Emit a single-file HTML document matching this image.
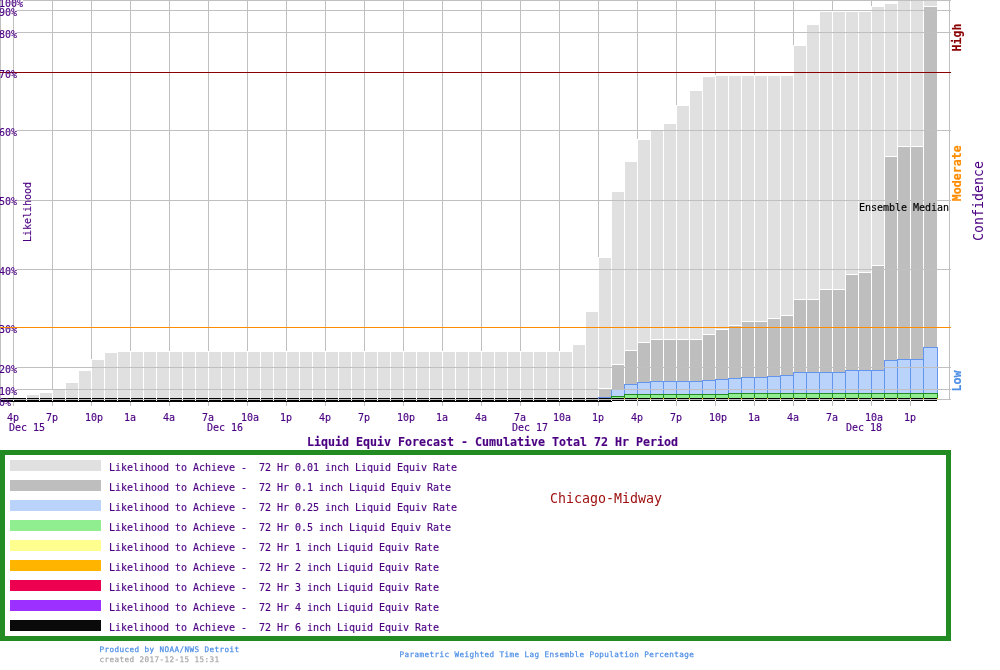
<!DOCTYPE html>
<html lang="en"><head><meta charset="utf-8"><title>Liquid Equiv Forecast - Chicago-Midway</title>
<style>html,body{margin:0;padding:0;background:#fff;overflow:hidden}body{width:1000px;height:670px;position:relative}</style>
</head><body>
<svg width="1000" height="670" viewBox="0 0 1000 670" style="position:absolute;left:0;top:0;display:block">
<g shape-rendering="crispEdges">
<rect x="13" y="0" width="1" height="402" fill="#C0C0C0"/>
<rect x="52" y="0" width="1" height="402" fill="#C0C0C0"/>
<rect x="91" y="0" width="1" height="402" fill="#C0C0C0"/>
<rect x="130" y="0" width="1" height="402" fill="#C0C0C0"/>
<rect x="169" y="0" width="1" height="402" fill="#C0C0C0"/>
<rect x="208" y="0" width="1" height="402" fill="#C0C0C0"/>
<rect x="247" y="0" width="1" height="402" fill="#C0C0C0"/>
<rect x="286" y="0" width="1" height="402" fill="#C0C0C0"/>
<rect x="325" y="0" width="1" height="402" fill="#C0C0C0"/>
<rect x="364" y="0" width="1" height="402" fill="#C0C0C0"/>
<rect x="403" y="0" width="1" height="402" fill="#C0C0C0"/>
<rect x="442" y="0" width="1" height="402" fill="#C0C0C0"/>
<rect x="481" y="0" width="1" height="402" fill="#C0C0C0"/>
<rect x="520" y="0" width="1" height="402" fill="#C0C0C0"/>
<rect x="559" y="0" width="1" height="402" fill="#C0C0C0"/>
<rect x="598" y="0" width="1" height="402" fill="#C0C0C0"/>
<rect x="637" y="0" width="1" height="402" fill="#C0C0C0"/>
<rect x="676" y="0" width="1" height="402" fill="#C0C0C0"/>
<rect x="715" y="0" width="1" height="402" fill="#C0C0C0"/>
<rect x="754" y="0" width="1" height="402" fill="#C0C0C0"/>
<rect x="793" y="0" width="1" height="402" fill="#C0C0C0"/>
<rect x="832" y="0" width="1" height="402" fill="#C0C0C0"/>
<rect x="871" y="0" width="1" height="402" fill="#C0C0C0"/>
<rect x="910" y="0" width="1" height="402" fill="#C0C0C0"/>
<rect x="0" y="0" width="1" height="402" fill="#C0C0C0"/>
<rect x="949" y="0" width="1" height="400" fill="#C0C0C0"/>
<rect x="26" y="394" width="14" height="4" fill="#FFFFFF"/>
<rect x="27" y="395" width="12" height="3" fill="#E0E0E0"/>
<rect x="39" y="392" width="14" height="6" fill="#FFFFFF"/>
<rect x="40" y="393" width="12" height="5" fill="#E0E0E0"/>
<rect x="52" y="389" width="14" height="9" fill="#FFFFFF"/>
<rect x="53" y="390" width="12" height="8" fill="#E0E0E0"/>
<rect x="65" y="382" width="14" height="16" fill="#FFFFFF"/>
<rect x="66" y="383" width="12" height="15" fill="#E0E0E0"/>
<rect x="78" y="370" width="14" height="28" fill="#FFFFFF"/>
<rect x="79" y="371" width="12" height="27" fill="#E0E0E0"/>
<rect x="91" y="359" width="14" height="39" fill="#FFFFFF"/>
<rect x="92" y="360" width="12" height="38" fill="#E0E0E0"/>
<rect x="104" y="352" width="14" height="46" fill="#FFFFFF"/>
<rect x="105" y="353" width="12" height="45" fill="#E0E0E0"/>
<rect x="117" y="351" width="14" height="47" fill="#FFFFFF"/>
<rect x="118" y="352" width="12" height="46" fill="#E0E0E0"/>
<rect x="130" y="351" width="14" height="47" fill="#FFFFFF"/>
<rect x="131" y="352" width="12" height="46" fill="#E0E0E0"/>
<rect x="143" y="351" width="14" height="47" fill="#FFFFFF"/>
<rect x="144" y="352" width="12" height="46" fill="#E0E0E0"/>
<rect x="156" y="351" width="14" height="47" fill="#FFFFFF"/>
<rect x="157" y="352" width="12" height="46" fill="#E0E0E0"/>
<rect x="169" y="351" width="14" height="47" fill="#FFFFFF"/>
<rect x="170" y="352" width="12" height="46" fill="#E0E0E0"/>
<rect x="182" y="351" width="14" height="47" fill="#FFFFFF"/>
<rect x="183" y="352" width="12" height="46" fill="#E0E0E0"/>
<rect x="195" y="351" width="14" height="47" fill="#FFFFFF"/>
<rect x="196" y="352" width="12" height="46" fill="#E0E0E0"/>
<rect x="208" y="351" width="14" height="47" fill="#FFFFFF"/>
<rect x="209" y="352" width="12" height="46" fill="#E0E0E0"/>
<rect x="221" y="351" width="14" height="47" fill="#FFFFFF"/>
<rect x="222" y="352" width="12" height="46" fill="#E0E0E0"/>
<rect x="234" y="351" width="14" height="47" fill="#FFFFFF"/>
<rect x="235" y="352" width="12" height="46" fill="#E0E0E0"/>
<rect x="247" y="351" width="14" height="47" fill="#FFFFFF"/>
<rect x="248" y="352" width="12" height="46" fill="#E0E0E0"/>
<rect x="260" y="351" width="14" height="47" fill="#FFFFFF"/>
<rect x="261" y="352" width="12" height="46" fill="#E0E0E0"/>
<rect x="273" y="351" width="14" height="47" fill="#FFFFFF"/>
<rect x="274" y="352" width="12" height="46" fill="#E0E0E0"/>
<rect x="286" y="351" width="14" height="47" fill="#FFFFFF"/>
<rect x="287" y="352" width="12" height="46" fill="#E0E0E0"/>
<rect x="299" y="351" width="14" height="47" fill="#FFFFFF"/>
<rect x="300" y="352" width="12" height="46" fill="#E0E0E0"/>
<rect x="312" y="351" width="14" height="47" fill="#FFFFFF"/>
<rect x="313" y="352" width="12" height="46" fill="#E0E0E0"/>
<rect x="325" y="351" width="14" height="47" fill="#FFFFFF"/>
<rect x="326" y="352" width="12" height="46" fill="#E0E0E0"/>
<rect x="338" y="351" width="14" height="47" fill="#FFFFFF"/>
<rect x="339" y="352" width="12" height="46" fill="#E0E0E0"/>
<rect x="351" y="351" width="14" height="47" fill="#FFFFFF"/>
<rect x="352" y="352" width="12" height="46" fill="#E0E0E0"/>
<rect x="364" y="351" width="14" height="47" fill="#FFFFFF"/>
<rect x="365" y="352" width="12" height="46" fill="#E0E0E0"/>
<rect x="377" y="351" width="14" height="47" fill="#FFFFFF"/>
<rect x="378" y="352" width="12" height="46" fill="#E0E0E0"/>
<rect x="390" y="351" width="14" height="47" fill="#FFFFFF"/>
<rect x="391" y="352" width="12" height="46" fill="#E0E0E0"/>
<rect x="403" y="351" width="14" height="47" fill="#FFFFFF"/>
<rect x="404" y="352" width="12" height="46" fill="#E0E0E0"/>
<rect x="416" y="351" width="14" height="47" fill="#FFFFFF"/>
<rect x="417" y="352" width="12" height="46" fill="#E0E0E0"/>
<rect x="429" y="351" width="14" height="47" fill="#FFFFFF"/>
<rect x="430" y="352" width="12" height="46" fill="#E0E0E0"/>
<rect x="442" y="351" width="14" height="47" fill="#FFFFFF"/>
<rect x="443" y="352" width="12" height="46" fill="#E0E0E0"/>
<rect x="455" y="351" width="14" height="47" fill="#FFFFFF"/>
<rect x="456" y="352" width="12" height="46" fill="#E0E0E0"/>
<rect x="468" y="351" width="14" height="47" fill="#FFFFFF"/>
<rect x="469" y="352" width="12" height="46" fill="#E0E0E0"/>
<rect x="481" y="351" width="14" height="47" fill="#FFFFFF"/>
<rect x="482" y="352" width="12" height="46" fill="#E0E0E0"/>
<rect x="494" y="351" width="14" height="47" fill="#FFFFFF"/>
<rect x="495" y="352" width="12" height="46" fill="#E0E0E0"/>
<rect x="507" y="351" width="14" height="47" fill="#FFFFFF"/>
<rect x="508" y="352" width="12" height="46" fill="#E0E0E0"/>
<rect x="520" y="351" width="14" height="47" fill="#FFFFFF"/>
<rect x="521" y="352" width="12" height="46" fill="#E0E0E0"/>
<rect x="533" y="351" width="14" height="47" fill="#FFFFFF"/>
<rect x="534" y="352" width="12" height="46" fill="#E0E0E0"/>
<rect x="546" y="351" width="14" height="47" fill="#FFFFFF"/>
<rect x="547" y="352" width="12" height="46" fill="#E0E0E0"/>
<rect x="559" y="351" width="14" height="47" fill="#FFFFFF"/>
<rect x="560" y="352" width="12" height="46" fill="#E0E0E0"/>
<rect x="572" y="344" width="14" height="54" fill="#FFFFFF"/>
<rect x="573" y="345" width="12" height="53" fill="#E0E0E0"/>
<rect x="585" y="311" width="14" height="87" fill="#FFFFFF"/>
<rect x="586" y="312" width="12" height="86" fill="#E0E0E0"/>
<rect x="598" y="257" width="14" height="141" fill="#FFFFFF"/>
<rect x="599" y="258" width="12" height="140" fill="#E0E0E0"/>
<rect x="611" y="191" width="14" height="207" fill="#FFFFFF"/>
<rect x="612" y="192" width="12" height="206" fill="#E0E0E0"/>
<rect x="624" y="161" width="14" height="237" fill="#FFFFFF"/>
<rect x="625" y="162" width="12" height="236" fill="#E0E0E0"/>
<rect x="637" y="139" width="14" height="259" fill="#FFFFFF"/>
<rect x="638" y="140" width="12" height="258" fill="#E0E0E0"/>
<rect x="650" y="130" width="14" height="268" fill="#FFFFFF"/>
<rect x="651" y="131" width="12" height="267" fill="#E0E0E0"/>
<rect x="663" y="123" width="14" height="275" fill="#FFFFFF"/>
<rect x="664" y="124" width="12" height="274" fill="#E0E0E0"/>
<rect x="676" y="105" width="14" height="293" fill="#FFFFFF"/>
<rect x="677" y="106" width="12" height="292" fill="#E0E0E0"/>
<rect x="689" y="90" width="14" height="308" fill="#FFFFFF"/>
<rect x="690" y="91" width="12" height="307" fill="#E0E0E0"/>
<rect x="702" y="76" width="14" height="322" fill="#FFFFFF"/>
<rect x="703" y="77" width="12" height="321" fill="#E0E0E0"/>
<rect x="715" y="75" width="14" height="323" fill="#FFFFFF"/>
<rect x="716" y="76" width="12" height="322" fill="#E0E0E0"/>
<rect x="728" y="75" width="14" height="323" fill="#FFFFFF"/>
<rect x="729" y="76" width="12" height="322" fill="#E0E0E0"/>
<rect x="741" y="75" width="14" height="323" fill="#FFFFFF"/>
<rect x="742" y="76" width="12" height="322" fill="#E0E0E0"/>
<rect x="754" y="75" width="14" height="323" fill="#FFFFFF"/>
<rect x="755" y="76" width="12" height="322" fill="#E0E0E0"/>
<rect x="767" y="75" width="14" height="323" fill="#FFFFFF"/>
<rect x="768" y="76" width="12" height="322" fill="#E0E0E0"/>
<rect x="780" y="75" width="14" height="323" fill="#FFFFFF"/>
<rect x="781" y="76" width="12" height="322" fill="#E0E0E0"/>
<rect x="793" y="45" width="14" height="353" fill="#FFFFFF"/>
<rect x="794" y="46" width="12" height="352" fill="#E0E0E0"/>
<rect x="806" y="24" width="14" height="374" fill="#FFFFFF"/>
<rect x="807" y="25" width="12" height="373" fill="#E0E0E0"/>
<rect x="819" y="11" width="14" height="387" fill="#FFFFFF"/>
<rect x="820" y="12" width="12" height="386" fill="#E0E0E0"/>
<rect x="832" y="11" width="14" height="387" fill="#FFFFFF"/>
<rect x="833" y="12" width="12" height="386" fill="#E0E0E0"/>
<rect x="845" y="11" width="14" height="387" fill="#FFFFFF"/>
<rect x="846" y="12" width="12" height="386" fill="#E0E0E0"/>
<rect x="858" y="11" width="14" height="387" fill="#FFFFFF"/>
<rect x="859" y="12" width="12" height="386" fill="#E0E0E0"/>
<rect x="871" y="6" width="14" height="392" fill="#FFFFFF"/>
<rect x="872" y="7" width="12" height="391" fill="#E0E0E0"/>
<rect x="884" y="3" width="14" height="395" fill="#FFFFFF"/>
<rect x="885" y="4" width="12" height="394" fill="#E0E0E0"/>
<rect x="897" y="0" width="14" height="398" fill="#FFFFFF"/>
<rect x="898" y="1" width="12" height="397" fill="#E0E0E0"/>
<rect x="910" y="0" width="14" height="398" fill="#FFFFFF"/>
<rect x="911" y="1" width="12" height="397" fill="#E0E0E0"/>
<rect x="923" y="0" width="15" height="398" fill="#FFFFFF"/>
<rect x="924" y="1" width="13" height="397" fill="#E0E0E0"/>
<rect x="598" y="388" width="14" height="10" fill="#FFFFFF"/>
<rect x="599" y="389" width="12" height="9" fill="#BEBEBE"/>
<rect x="611" y="364" width="14" height="34" fill="#FFFFFF"/>
<rect x="612" y="365" width="12" height="33" fill="#BEBEBE"/>
<rect x="624" y="350" width="14" height="48" fill="#FFFFFF"/>
<rect x="625" y="351" width="12" height="47" fill="#BEBEBE"/>
<rect x="637" y="342" width="14" height="56" fill="#FFFFFF"/>
<rect x="638" y="343" width="12" height="55" fill="#BEBEBE"/>
<rect x="650" y="339" width="14" height="59" fill="#FFFFFF"/>
<rect x="651" y="340" width="12" height="58" fill="#BEBEBE"/>
<rect x="663" y="339" width="14" height="59" fill="#FFFFFF"/>
<rect x="664" y="340" width="12" height="58" fill="#BEBEBE"/>
<rect x="676" y="339" width="14" height="59" fill="#FFFFFF"/>
<rect x="677" y="340" width="12" height="58" fill="#BEBEBE"/>
<rect x="689" y="339" width="14" height="59" fill="#FFFFFF"/>
<rect x="690" y="340" width="12" height="58" fill="#BEBEBE"/>
<rect x="702" y="334" width="14" height="64" fill="#FFFFFF"/>
<rect x="703" y="335" width="12" height="63" fill="#BEBEBE"/>
<rect x="715" y="329" width="14" height="69" fill="#FFFFFF"/>
<rect x="716" y="330" width="12" height="68" fill="#BEBEBE"/>
<rect x="728" y="325" width="14" height="73" fill="#FFFFFF"/>
<rect x="729" y="326" width="12" height="72" fill="#BEBEBE"/>
<rect x="741" y="321" width="14" height="77" fill="#FFFFFF"/>
<rect x="742" y="322" width="12" height="76" fill="#BEBEBE"/>
<rect x="754" y="321" width="14" height="77" fill="#FFFFFF"/>
<rect x="755" y="322" width="12" height="76" fill="#BEBEBE"/>
<rect x="767" y="318" width="14" height="80" fill="#FFFFFF"/>
<rect x="768" y="319" width="12" height="79" fill="#BEBEBE"/>
<rect x="780" y="315" width="14" height="83" fill="#FFFFFF"/>
<rect x="781" y="316" width="12" height="82" fill="#BEBEBE"/>
<rect x="793" y="299" width="14" height="99" fill="#FFFFFF"/>
<rect x="794" y="300" width="12" height="98" fill="#BEBEBE"/>
<rect x="806" y="299" width="14" height="99" fill="#FFFFFF"/>
<rect x="807" y="300" width="12" height="98" fill="#BEBEBE"/>
<rect x="819" y="289" width="14" height="109" fill="#FFFFFF"/>
<rect x="820" y="290" width="12" height="108" fill="#BEBEBE"/>
<rect x="832" y="289" width="14" height="109" fill="#FFFFFF"/>
<rect x="833" y="290" width="12" height="108" fill="#BEBEBE"/>
<rect x="845" y="274" width="14" height="124" fill="#FFFFFF"/>
<rect x="846" y="275" width="12" height="123" fill="#BEBEBE"/>
<rect x="858" y="272" width="14" height="126" fill="#FFFFFF"/>
<rect x="859" y="273" width="12" height="125" fill="#BEBEBE"/>
<rect x="871" y="265" width="14" height="133" fill="#FFFFFF"/>
<rect x="872" y="266" width="12" height="132" fill="#BEBEBE"/>
<rect x="884" y="156" width="14" height="242" fill="#FFFFFF"/>
<rect x="885" y="157" width="12" height="241" fill="#BEBEBE"/>
<rect x="897" y="146" width="14" height="252" fill="#FFFFFF"/>
<rect x="898" y="147" width="12" height="251" fill="#BEBEBE"/>
<rect x="910" y="146" width="14" height="252" fill="#FFFFFF"/>
<rect x="911" y="147" width="12" height="251" fill="#BEBEBE"/>
<rect x="923" y="6" width="15" height="392" fill="#FFFFFF"/>
<rect x="924" y="7" width="13" height="391" fill="#BEBEBE"/>
<rect x="598" y="397" width="14" height="1" fill="#6495ED"/>
<rect x="611" y="389" width="14" height="9" fill="#6495ED"/>
<rect x="612" y="390" width="12" height="8" fill="#B9D3FA"/>
<rect x="624" y="384" width="14" height="14" fill="#6495ED"/>
<rect x="625" y="385" width="12" height="13" fill="#B9D3FA"/>
<rect x="637" y="382" width="14" height="16" fill="#6495ED"/>
<rect x="638" y="383" width="12" height="15" fill="#B9D3FA"/>
<rect x="650" y="381" width="14" height="17" fill="#6495ED"/>
<rect x="651" y="382" width="12" height="16" fill="#B9D3FA"/>
<rect x="663" y="381" width="14" height="17" fill="#6495ED"/>
<rect x="664" y="382" width="12" height="16" fill="#B9D3FA"/>
<rect x="676" y="381" width="14" height="17" fill="#6495ED"/>
<rect x="677" y="382" width="12" height="16" fill="#B9D3FA"/>
<rect x="689" y="381" width="14" height="17" fill="#6495ED"/>
<rect x="690" y="382" width="12" height="16" fill="#B9D3FA"/>
<rect x="702" y="380" width="14" height="18" fill="#6495ED"/>
<rect x="703" y="381" width="12" height="17" fill="#B9D3FA"/>
<rect x="715" y="379" width="14" height="19" fill="#6495ED"/>
<rect x="716" y="380" width="12" height="18" fill="#B9D3FA"/>
<rect x="728" y="378" width="14" height="20" fill="#6495ED"/>
<rect x="729" y="379" width="12" height="19" fill="#B9D3FA"/>
<rect x="741" y="377" width="14" height="21" fill="#6495ED"/>
<rect x="742" y="378" width="12" height="20" fill="#B9D3FA"/>
<rect x="754" y="377" width="14" height="21" fill="#6495ED"/>
<rect x="755" y="378" width="12" height="20" fill="#B9D3FA"/>
<rect x="767" y="376" width="14" height="22" fill="#6495ED"/>
<rect x="768" y="377" width="12" height="21" fill="#B9D3FA"/>
<rect x="780" y="375" width="14" height="23" fill="#6495ED"/>
<rect x="781" y="376" width="12" height="22" fill="#B9D3FA"/>
<rect x="793" y="372" width="14" height="26" fill="#6495ED"/>
<rect x="794" y="373" width="12" height="25" fill="#B9D3FA"/>
<rect x="806" y="372" width="14" height="26" fill="#6495ED"/>
<rect x="807" y="373" width="12" height="25" fill="#B9D3FA"/>
<rect x="819" y="372" width="14" height="26" fill="#6495ED"/>
<rect x="820" y="373" width="12" height="25" fill="#B9D3FA"/>
<rect x="832" y="372" width="14" height="26" fill="#6495ED"/>
<rect x="833" y="373" width="12" height="25" fill="#B9D3FA"/>
<rect x="845" y="370" width="14" height="28" fill="#6495ED"/>
<rect x="846" y="371" width="12" height="27" fill="#B9D3FA"/>
<rect x="858" y="370" width="14" height="28" fill="#6495ED"/>
<rect x="859" y="371" width="12" height="27" fill="#B9D3FA"/>
<rect x="871" y="370" width="14" height="28" fill="#6495ED"/>
<rect x="872" y="371" width="12" height="27" fill="#B9D3FA"/>
<rect x="884" y="360" width="14" height="38" fill="#6495ED"/>
<rect x="885" y="361" width="12" height="37" fill="#B9D3FA"/>
<rect x="897" y="359" width="14" height="39" fill="#6495ED"/>
<rect x="898" y="360" width="12" height="38" fill="#B9D3FA"/>
<rect x="910" y="359" width="14" height="39" fill="#6495ED"/>
<rect x="911" y="360" width="12" height="38" fill="#B9D3FA"/>
<rect x="923" y="347" width="15" height="51" fill="#6495ED"/>
<rect x="924" y="348" width="13" height="50" fill="#B9D3FA"/>
<rect x="611" y="396" width="14" height="2" fill="#228B22"/>
<rect x="612" y="397" width="12" height="1" fill="#90EE90"/>
<rect x="624" y="394" width="14" height="4" fill="#228B22"/>
<rect x="625" y="395" width="12" height="3" fill="#90EE90"/>
<rect x="637" y="394" width="14" height="4" fill="#228B22"/>
<rect x="638" y="395" width="12" height="3" fill="#90EE90"/>
<rect x="650" y="394" width="14" height="4" fill="#228B22"/>
<rect x="651" y="395" width="12" height="3" fill="#90EE90"/>
<rect x="663" y="394" width="14" height="4" fill="#228B22"/>
<rect x="664" y="395" width="12" height="3" fill="#90EE90"/>
<rect x="676" y="394" width="14" height="4" fill="#228B22"/>
<rect x="677" y="395" width="12" height="3" fill="#90EE90"/>
<rect x="689" y="394" width="14" height="4" fill="#228B22"/>
<rect x="690" y="395" width="12" height="3" fill="#90EE90"/>
<rect x="702" y="394" width="14" height="4" fill="#228B22"/>
<rect x="703" y="395" width="12" height="3" fill="#90EE90"/>
<rect x="715" y="394" width="14" height="4" fill="#228B22"/>
<rect x="716" y="395" width="12" height="3" fill="#90EE90"/>
<rect x="728" y="393" width="14" height="5" fill="#228B22"/>
<rect x="729" y="394" width="12" height="4" fill="#90EE90"/>
<rect x="741" y="393" width="14" height="5" fill="#228B22"/>
<rect x="742" y="394" width="12" height="4" fill="#90EE90"/>
<rect x="754" y="393" width="14" height="5" fill="#228B22"/>
<rect x="755" y="394" width="12" height="4" fill="#90EE90"/>
<rect x="767" y="393" width="14" height="5" fill="#228B22"/>
<rect x="768" y="394" width="12" height="4" fill="#90EE90"/>
<rect x="780" y="393" width="14" height="5" fill="#228B22"/>
<rect x="781" y="394" width="12" height="4" fill="#90EE90"/>
<rect x="793" y="393" width="14" height="5" fill="#228B22"/>
<rect x="794" y="394" width="12" height="4" fill="#90EE90"/>
<rect x="806" y="393" width="14" height="5" fill="#228B22"/>
<rect x="807" y="394" width="12" height="4" fill="#90EE90"/>
<rect x="819" y="393" width="14" height="5" fill="#228B22"/>
<rect x="820" y="394" width="12" height="4" fill="#90EE90"/>
<rect x="832" y="393" width="14" height="5" fill="#228B22"/>
<rect x="833" y="394" width="12" height="4" fill="#90EE90"/>
<rect x="845" y="393" width="14" height="5" fill="#228B22"/>
<rect x="846" y="394" width="12" height="4" fill="#90EE90"/>
<rect x="858" y="393" width="14" height="5" fill="#228B22"/>
<rect x="859" y="394" width="12" height="4" fill="#90EE90"/>
<rect x="871" y="393" width="14" height="5" fill="#228B22"/>
<rect x="872" y="394" width="12" height="4" fill="#90EE90"/>
<rect x="884" y="393" width="14" height="5" fill="#228B22"/>
<rect x="885" y="394" width="12" height="4" fill="#90EE90"/>
<rect x="897" y="393" width="14" height="5" fill="#228B22"/>
<rect x="898" y="394" width="12" height="4" fill="#90EE90"/>
<rect x="910" y="393" width="14" height="5" fill="#228B22"/>
<rect x="911" y="394" width="12" height="4" fill="#90EE90"/>
<rect x="923" y="393" width="15" height="5" fill="#228B22"/>
<rect x="924" y="394" width="13" height="4" fill="#90EE90"/>
<rect x="0" y="72" width="951" height="1" fill="#8B0000"/>
<rect x="23" y="0" width="928" height="1" fill="#C0C0C0"/>
<rect x="17" y="10" width="934" height="1" fill="#C0C0C0"/>
<rect x="17" y="32" width="934" height="1" fill="#C0C0C0"/>
<rect x="17" y="130" width="934" height="1" fill="#C0C0C0"/>
<rect x="17" y="200" width="934" height="1" fill="#C0C0C0"/>
<rect x="17" y="269" width="934" height="1" fill="#C0C0C0"/>
<rect x="17" y="367" width="934" height="1" fill="#C0C0C0"/>
<rect x="17" y="389" width="934" height="1" fill="#C0C0C0"/>
<rect x="1" y="398" width="936" height="1" fill="#000"/>
<rect x="1" y="400" width="936" height="1" fill="#000"/>
<rect x="1" y="401" width="611" height="1" fill="#000"/>
<rect x="13" y="400" width="1" height="1" fill="#fff"/>
<rect x="26" y="398" width="1" height="1" fill="#fff"/>
<rect x="26" y="400" width="1" height="1" fill="#fff"/>
<rect x="39" y="398" width="1" height="1" fill="#fff"/>
<rect x="39" y="400" width="1" height="1" fill="#fff"/>
<rect x="52" y="398" width="1" height="1" fill="#fff"/>
<rect x="52" y="400" width="1" height="1" fill="#fff"/>
<rect x="65" y="398" width="1" height="1" fill="#fff"/>
<rect x="65" y="400" width="1" height="1" fill="#fff"/>
<rect x="78" y="398" width="1" height="1" fill="#fff"/>
<rect x="78" y="400" width="1" height="1" fill="#fff"/>
<rect x="91" y="398" width="1" height="1" fill="#fff"/>
<rect x="91" y="400" width="1" height="1" fill="#fff"/>
<rect x="104" y="398" width="1" height="1" fill="#fff"/>
<rect x="104" y="400" width="1" height="1" fill="#fff"/>
<rect x="117" y="398" width="1" height="1" fill="#fff"/>
<rect x="117" y="400" width="1" height="1" fill="#fff"/>
<rect x="130" y="398" width="1" height="1" fill="#fff"/>
<rect x="130" y="400" width="1" height="1" fill="#fff"/>
<rect x="143" y="398" width="1" height="1" fill="#fff"/>
<rect x="143" y="400" width="1" height="1" fill="#fff"/>
<rect x="156" y="398" width="1" height="1" fill="#fff"/>
<rect x="156" y="400" width="1" height="1" fill="#fff"/>
<rect x="169" y="398" width="1" height="1" fill="#fff"/>
<rect x="169" y="400" width="1" height="1" fill="#fff"/>
<rect x="182" y="398" width="1" height="1" fill="#fff"/>
<rect x="182" y="400" width="1" height="1" fill="#fff"/>
<rect x="195" y="398" width="1" height="1" fill="#fff"/>
<rect x="195" y="400" width="1" height="1" fill="#fff"/>
<rect x="208" y="398" width="1" height="1" fill="#fff"/>
<rect x="208" y="400" width="1" height="1" fill="#fff"/>
<rect x="221" y="398" width="1" height="1" fill="#fff"/>
<rect x="221" y="400" width="1" height="1" fill="#fff"/>
<rect x="234" y="398" width="1" height="1" fill="#fff"/>
<rect x="234" y="400" width="1" height="1" fill="#fff"/>
<rect x="247" y="398" width="1" height="1" fill="#fff"/>
<rect x="247" y="400" width="1" height="1" fill="#fff"/>
<rect x="260" y="398" width="1" height="1" fill="#fff"/>
<rect x="260" y="400" width="1" height="1" fill="#fff"/>
<rect x="273" y="398" width="1" height="1" fill="#fff"/>
<rect x="273" y="400" width="1" height="1" fill="#fff"/>
<rect x="286" y="398" width="1" height="1" fill="#fff"/>
<rect x="286" y="400" width="1" height="1" fill="#fff"/>
<rect x="299" y="398" width="1" height="1" fill="#fff"/>
<rect x="299" y="400" width="1" height="1" fill="#fff"/>
<rect x="312" y="398" width="1" height="1" fill="#fff"/>
<rect x="312" y="400" width="1" height="1" fill="#fff"/>
<rect x="325" y="398" width="1" height="1" fill="#fff"/>
<rect x="325" y="400" width="1" height="1" fill="#fff"/>
<rect x="338" y="398" width="1" height="1" fill="#fff"/>
<rect x="338" y="400" width="1" height="1" fill="#fff"/>
<rect x="351" y="398" width="1" height="1" fill="#fff"/>
<rect x="351" y="400" width="1" height="1" fill="#fff"/>
<rect x="364" y="398" width="1" height="1" fill="#fff"/>
<rect x="364" y="400" width="1" height="1" fill="#fff"/>
<rect x="377" y="398" width="1" height="1" fill="#fff"/>
<rect x="377" y="400" width="1" height="1" fill="#fff"/>
<rect x="390" y="398" width="1" height="1" fill="#fff"/>
<rect x="390" y="400" width="1" height="1" fill="#fff"/>
<rect x="403" y="398" width="1" height="1" fill="#fff"/>
<rect x="403" y="400" width="1" height="1" fill="#fff"/>
<rect x="416" y="398" width="1" height="1" fill="#fff"/>
<rect x="416" y="400" width="1" height="1" fill="#fff"/>
<rect x="429" y="398" width="1" height="1" fill="#fff"/>
<rect x="429" y="400" width="1" height="1" fill="#fff"/>
<rect x="442" y="398" width="1" height="1" fill="#fff"/>
<rect x="442" y="400" width="1" height="1" fill="#fff"/>
<rect x="455" y="398" width="1" height="1" fill="#fff"/>
<rect x="455" y="400" width="1" height="1" fill="#fff"/>
<rect x="468" y="398" width="1" height="1" fill="#fff"/>
<rect x="468" y="400" width="1" height="1" fill="#fff"/>
<rect x="481" y="398" width="1" height="1" fill="#fff"/>
<rect x="481" y="400" width="1" height="1" fill="#fff"/>
<rect x="494" y="398" width="1" height="1" fill="#fff"/>
<rect x="494" y="400" width="1" height="1" fill="#fff"/>
<rect x="507" y="398" width="1" height="1" fill="#fff"/>
<rect x="507" y="400" width="1" height="1" fill="#fff"/>
<rect x="520" y="398" width="1" height="1" fill="#fff"/>
<rect x="520" y="400" width="1" height="1" fill="#fff"/>
<rect x="533" y="398" width="1" height="1" fill="#fff"/>
<rect x="533" y="400" width="1" height="1" fill="#fff"/>
<rect x="546" y="398" width="1" height="1" fill="#fff"/>
<rect x="546" y="400" width="1" height="1" fill="#fff"/>
<rect x="559" y="398" width="1" height="1" fill="#fff"/>
<rect x="559" y="400" width="1" height="1" fill="#fff"/>
<rect x="572" y="398" width="1" height="1" fill="#fff"/>
<rect x="572" y="400" width="1" height="1" fill="#fff"/>
<rect x="585" y="398" width="1" height="1" fill="#fff"/>
<rect x="585" y="400" width="1" height="1" fill="#fff"/>
<rect x="598" y="398" width="1" height="1" fill="#6495ED"/>
<rect x="598" y="400" width="1" height="1" fill="#fff"/>
<rect x="611" y="398" width="1" height="1" fill="#228B22"/>
<rect x="611" y="400" width="1" height="1" fill="#fff"/>
<rect x="624" y="398" width="1" height="1" fill="#FFC800"/>
<rect x="624" y="400" width="1" height="1" fill="#fff"/>
<rect x="637" y="398" width="1" height="1" fill="#FFC800"/>
<rect x="637" y="400" width="1" height="1" fill="#fff"/>
<rect x="650" y="398" width="1" height="1" fill="#FFC800"/>
<rect x="650" y="400" width="1" height="1" fill="#fff"/>
<rect x="663" y="398" width="1" height="1" fill="#FFC800"/>
<rect x="663" y="400" width="1" height="1" fill="#fff"/>
<rect x="676" y="398" width="1" height="1" fill="#FFC800"/>
<rect x="676" y="400" width="1" height="1" fill="#fff"/>
<rect x="689" y="398" width="1" height="1" fill="#FFC800"/>
<rect x="689" y="400" width="1" height="1" fill="#fff"/>
<rect x="702" y="398" width="1" height="1" fill="#FFC800"/>
<rect x="702" y="400" width="1" height="1" fill="#fff"/>
<rect x="715" y="398" width="1" height="1" fill="#FFC800"/>
<rect x="715" y="400" width="1" height="1" fill="#fff"/>
<rect x="728" y="398" width="1" height="1" fill="#FFC800"/>
<rect x="728" y="400" width="1" height="1" fill="#fff"/>
<rect x="741" y="398" width="1" height="1" fill="#FFC800"/>
<rect x="741" y="400" width="1" height="1" fill="#fff"/>
<rect x="754" y="398" width="1" height="1" fill="#FFC800"/>
<rect x="754" y="400" width="1" height="1" fill="#fff"/>
<rect x="767" y="398" width="1" height="1" fill="#FFC800"/>
<rect x="767" y="400" width="1" height="1" fill="#fff"/>
<rect x="780" y="398" width="1" height="1" fill="#FFC800"/>
<rect x="780" y="400" width="1" height="1" fill="#fff"/>
<rect x="793" y="398" width="1" height="1" fill="#FFC800"/>
<rect x="793" y="400" width="1" height="1" fill="#fff"/>
<rect x="806" y="398" width="1" height="1" fill="#FFC800"/>
<rect x="806" y="400" width="1" height="1" fill="#fff"/>
<rect x="819" y="398" width="1" height="1" fill="#FFC800"/>
<rect x="819" y="400" width="1" height="1" fill="#fff"/>
<rect x="832" y="398" width="1" height="1" fill="#FFC800"/>
<rect x="832" y="400" width="1" height="1" fill="#fff"/>
<rect x="845" y="398" width="1" height="1" fill="#FFC800"/>
<rect x="845" y="400" width="1" height="1" fill="#fff"/>
<rect x="858" y="398" width="1" height="1" fill="#FFC800"/>
<rect x="858" y="400" width="1" height="1" fill="#fff"/>
<rect x="871" y="398" width="1" height="1" fill="#FFC800"/>
<rect x="871" y="400" width="1" height="1" fill="#fff"/>
<rect x="884" y="398" width="1" height="1" fill="#FFC800"/>
<rect x="884" y="400" width="1" height="1" fill="#fff"/>
<rect x="897" y="398" width="1" height="1" fill="#FFC800"/>
<rect x="897" y="400" width="1" height="1" fill="#fff"/>
<rect x="910" y="398" width="1" height="1" fill="#FFC800"/>
<rect x="910" y="400" width="1" height="1" fill="#fff"/>
<rect x="923" y="398" width="1" height="1" fill="#FFC800"/>
<rect x="923" y="400" width="1" height="1" fill="#fff"/>
<rect x="937" y="398" width="1" height="1" fill="#FFC800"/>
<rect x="937" y="400" width="1" height="1" fill="#fff"/>
<rect x="13" y="402" width="1" height="4" fill="#C0C0C0"/>
<rect x="52" y="402" width="1" height="4" fill="#C0C0C0"/>
<rect x="91" y="402" width="1" height="4" fill="#C0C0C0"/>
<rect x="130" y="402" width="1" height="4" fill="#C0C0C0"/>
<rect x="169" y="402" width="1" height="4" fill="#C0C0C0"/>
<rect x="208" y="402" width="1" height="4" fill="#C0C0C0"/>
<rect x="247" y="402" width="1" height="4" fill="#C0C0C0"/>
<rect x="286" y="402" width="1" height="4" fill="#C0C0C0"/>
<rect x="325" y="402" width="1" height="4" fill="#C0C0C0"/>
<rect x="364" y="402" width="1" height="4" fill="#C0C0C0"/>
<rect x="403" y="402" width="1" height="4" fill="#C0C0C0"/>
<rect x="442" y="402" width="1" height="4" fill="#C0C0C0"/>
<rect x="481" y="402" width="1" height="4" fill="#C0C0C0"/>
<rect x="520" y="402" width="1" height="4" fill="#C0C0C0"/>
<rect x="559" y="402" width="1" height="4" fill="#C0C0C0"/>
<rect x="598" y="402" width="1" height="4" fill="#C0C0C0"/>
<rect x="637" y="401" width="1" height="5" fill="#C0C0C0"/>
<rect x="676" y="401" width="1" height="5" fill="#C0C0C0"/>
<rect x="715" y="401" width="1" height="5" fill="#C0C0C0"/>
<rect x="754" y="401" width="1" height="5" fill="#C0C0C0"/>
<rect x="793" y="401" width="1" height="5" fill="#C0C0C0"/>
<rect x="832" y="401" width="1" height="5" fill="#C0C0C0"/>
<rect x="871" y="401" width="1" height="5" fill="#C0C0C0"/>
<rect x="910" y="401" width="1" height="5" fill="#C0C0C0"/>
</g>
<g font-family="'DejaVu Sans Mono','Liberation Mono',monospace" style="white-space:pre">
<text x="-1" y="7" font-size="10" letter-spacing="-0.02" fill="#4B0082" stroke="#4B0082" stroke-width="0.15" xml:space="preserve">100%</text>
<text x="-1" y="16" font-size="10" letter-spacing="-0.02" fill="#4B0082" stroke="#4B0082" stroke-width="0.15" xml:space="preserve">90%</text>
<text x="-1" y="38" font-size="10" letter-spacing="-0.02" fill="#4B0082" stroke="#4B0082" stroke-width="0.15" xml:space="preserve">80%</text>
<text x="-1" y="78" font-size="10" letter-spacing="-0.02" fill="#4B0082" stroke="#4B0082" stroke-width="0.15" xml:space="preserve">70%</text>
<text x="-1" y="136" font-size="10" letter-spacing="-0.02" fill="#4B0082" stroke="#4B0082" stroke-width="0.15" xml:space="preserve">60%</text>
<text x="-1" y="205" font-size="10" letter-spacing="-0.02" fill="#4B0082" stroke="#4B0082" stroke-width="0.15" xml:space="preserve">50%</text>
<text x="-1" y="275" font-size="10" letter-spacing="-0.02" fill="#4B0082" stroke="#4B0082" stroke-width="0.15" xml:space="preserve">40%</text>
<text x="-1" y="333" font-size="10" letter-spacing="-0.02" fill="#4B0082" stroke="#4B0082" stroke-width="0.15" xml:space="preserve">30%</text>
<text x="-1" y="373" font-size="10" letter-spacing="-0.02" fill="#4B0082" stroke="#4B0082" stroke-width="0.15" xml:space="preserve">20%</text>
<text x="-1" y="395" font-size="10" letter-spacing="-0.02" fill="#4B0082" stroke="#4B0082" stroke-width="0.15" xml:space="preserve">10%</text>
<text x="-1" y="406" font-size="10" letter-spacing="-0.02" fill="#4B0082" stroke="#4B0082" stroke-width="0.15" xml:space="preserve">0%</text>
</g>
<g shape-rendering="crispEdges">
<rect x="1" y="399" width="950" height="1" fill="#C0C0C0"/>
<rect x="0" y="327" width="951" height="1" fill="#FF8C00"/>
<rect x="0" y="450" width="951" height="191" fill="#228B22"/>
<rect x="5" y="455" width="941" height="181" fill="#fff"/>
<rect x="10" y="460" width="91" height="11" fill="#E0E0E0"/>
<rect x="10" y="480" width="91" height="11" fill="#BEBEBE"/>
<rect x="10" y="500" width="91" height="11" fill="#B9D3FA"/>
<rect x="10" y="520" width="91" height="11" fill="#90EE90"/>
<rect x="10" y="540" width="91" height="11" fill="#FFFF90"/>
<rect x="10" y="560" width="91" height="11" fill="#FFB400"/>
<rect x="10" y="580" width="91" height="11" fill="#EE0050"/>
<rect x="10" y="600" width="91" height="11" fill="#9B30FF"/>
<rect x="10" y="620" width="91" height="11" fill="#0A0A0A"/>
</g>
<g font-family="'DejaVu Sans Mono','Liberation Mono',monospace" style="white-space:pre">
<text x="7" y="421" font-size="10" letter-spacing="-0.02" fill="#4B0082" stroke="#4B0082" stroke-width="0.15" xml:space="preserve">4p</text>
<text x="46" y="421" font-size="10" letter-spacing="-0.02" fill="#4B0082" stroke="#4B0082" stroke-width="0.15" xml:space="preserve">7p</text>
<text x="85" y="421" font-size="10" letter-spacing="-0.02" fill="#4B0082" stroke="#4B0082" stroke-width="0.15" xml:space="preserve">10p</text>
<text x="124" y="421" font-size="10" letter-spacing="-0.02" fill="#4B0082" stroke="#4B0082" stroke-width="0.15" xml:space="preserve">1a</text>
<text x="163" y="421" font-size="10" letter-spacing="-0.02" fill="#4B0082" stroke="#4B0082" stroke-width="0.15" xml:space="preserve">4a</text>
<text x="202" y="421" font-size="10" letter-spacing="-0.02" fill="#4B0082" stroke="#4B0082" stroke-width="0.15" xml:space="preserve">7a</text>
<text x="241" y="421" font-size="10" letter-spacing="-0.02" fill="#4B0082" stroke="#4B0082" stroke-width="0.15" xml:space="preserve">10a</text>
<text x="280" y="421" font-size="10" letter-spacing="-0.02" fill="#4B0082" stroke="#4B0082" stroke-width="0.15" xml:space="preserve">1p</text>
<text x="319" y="421" font-size="10" letter-spacing="-0.02" fill="#4B0082" stroke="#4B0082" stroke-width="0.15" xml:space="preserve">4p</text>
<text x="358" y="421" font-size="10" letter-spacing="-0.02" fill="#4B0082" stroke="#4B0082" stroke-width="0.15" xml:space="preserve">7p</text>
<text x="397" y="421" font-size="10" letter-spacing="-0.02" fill="#4B0082" stroke="#4B0082" stroke-width="0.15" xml:space="preserve">10p</text>
<text x="436" y="421" font-size="10" letter-spacing="-0.02" fill="#4B0082" stroke="#4B0082" stroke-width="0.15" xml:space="preserve">1a</text>
<text x="475" y="421" font-size="10" letter-spacing="-0.02" fill="#4B0082" stroke="#4B0082" stroke-width="0.15" xml:space="preserve">4a</text>
<text x="514" y="421" font-size="10" letter-spacing="-0.02" fill="#4B0082" stroke="#4B0082" stroke-width="0.15" xml:space="preserve">7a</text>
<text x="553" y="421" font-size="10" letter-spacing="-0.02" fill="#4B0082" stroke="#4B0082" stroke-width="0.15" xml:space="preserve">10a</text>
<text x="592" y="421" font-size="10" letter-spacing="-0.02" fill="#4B0082" stroke="#4B0082" stroke-width="0.15" xml:space="preserve">1p</text>
<text x="631" y="421" font-size="10" letter-spacing="-0.02" fill="#4B0082" stroke="#4B0082" stroke-width="0.15" xml:space="preserve">4p</text>
<text x="670" y="421" font-size="10" letter-spacing="-0.02" fill="#4B0082" stroke="#4B0082" stroke-width="0.15" xml:space="preserve">7p</text>
<text x="709" y="421" font-size="10" letter-spacing="-0.02" fill="#4B0082" stroke="#4B0082" stroke-width="0.15" xml:space="preserve">10p</text>
<text x="748" y="421" font-size="10" letter-spacing="-0.02" fill="#4B0082" stroke="#4B0082" stroke-width="0.15" xml:space="preserve">1a</text>
<text x="787" y="421" font-size="10" letter-spacing="-0.02" fill="#4B0082" stroke="#4B0082" stroke-width="0.15" xml:space="preserve">4a</text>
<text x="826" y="421" font-size="10" letter-spacing="-0.02" fill="#4B0082" stroke="#4B0082" stroke-width="0.15" xml:space="preserve">7a</text>
<text x="865" y="421" font-size="10" letter-spacing="-0.02" fill="#4B0082" stroke="#4B0082" stroke-width="0.15" xml:space="preserve">10a</text>
<text x="904" y="421" font-size="10" letter-spacing="-0.02" fill="#4B0082" stroke="#4B0082" stroke-width="0.15" xml:space="preserve">1p</text>
<text x="9" y="431" font-size="10" letter-spacing="-0.02" fill="#4B0082" stroke="#4B0082" stroke-width="0.15" xml:space="preserve">Dec 15</text>
<text x="207" y="431" font-size="10" letter-spacing="-0.02" fill="#4B0082" stroke="#4B0082" stroke-width="0.15" xml:space="preserve">Dec 16</text>
<text x="512" y="431" font-size="10" letter-spacing="-0.02" fill="#4B0082" stroke="#4B0082" stroke-width="0.15" xml:space="preserve">Dec 17</text>
<text x="846" y="431" font-size="10" letter-spacing="-0.02" fill="#4B0082" stroke="#4B0082" stroke-width="0.15" xml:space="preserve">Dec 18</text>
<text x="307" y="446" font-size="11.63" fill="#4B0082" stroke="#4B0082" stroke-width="0.15" font-weight="bold" xml:space="preserve">Liquid Equiv Forecast - Cumulative Total 72 Hr Period</text>
<text transform="translate(31,242) rotate(-90)" font-size="10" letter-spacing="-0.02" fill="#4B0082" stroke="#4B0082" stroke-width="0.15" xml:space="preserve">Likelihood</text>
<text transform="translate(961,51.5) rotate(-90)" font-size="11.63" fill="#8B0000" stroke="#8B0000" stroke-width="0.15" font-weight="bold" xml:space="preserve">High</text>
<text transform="translate(961,201.3) rotate(-90)" font-size="11.63" fill="#FF8C00" stroke="#FF8C00" stroke-width="0.15" font-weight="bold" xml:space="preserve">Moderate</text>
<text transform="translate(961,391.5) rotate(-90)" font-size="11.63" fill="#4F8FE6" stroke="#4F8FE6" stroke-width="0.15" font-weight="bold" xml:space="preserve">Low</text>
<text transform="translate(983,241) rotate(-90)" font-size="13.29" fill="#4B0082" xml:space="preserve">Confidence</text>
<text x="859" y="211" font-size="10" letter-spacing="-0.02" fill="#000" stroke="#000" stroke-width="0.15" xml:space="preserve">Ensemble Median</text>
<text x="109" y="471" font-size="10" letter-spacing="-0.02" fill="#4B0082" stroke="#4B0082" stroke-width="0.15" xml:space="preserve">Likelihood to Achieve -  72 Hr 0.01 inch Liquid Equiv Rate</text>
<text x="109" y="491" font-size="10" letter-spacing="-0.02" fill="#4B0082" stroke="#4B0082" stroke-width="0.15" xml:space="preserve">Likelihood to Achieve -  72 Hr 0.1 inch Liquid Equiv Rate</text>
<text x="109" y="511" font-size="10" letter-spacing="-0.02" fill="#4B0082" stroke="#4B0082" stroke-width="0.15" xml:space="preserve">Likelihood to Achieve -  72 Hr 0.25 inch Liquid Equiv Rate</text>
<text x="109" y="531" font-size="10" letter-spacing="-0.02" fill="#4B0082" stroke="#4B0082" stroke-width="0.15" xml:space="preserve">Likelihood to Achieve -  72 Hr 0.5 inch Liquid Equiv Rate</text>
<text x="109" y="551" font-size="10" letter-spacing="-0.02" fill="#4B0082" stroke="#4B0082" stroke-width="0.15" xml:space="preserve">Likelihood to Achieve -  72 Hr 1 inch Liquid Equiv Rate</text>
<text x="109" y="571" font-size="10" letter-spacing="-0.02" fill="#4B0082" stroke="#4B0082" stroke-width="0.15" xml:space="preserve">Likelihood to Achieve -  72 Hr 2 inch Liquid Equiv Rate</text>
<text x="109" y="591" font-size="10" letter-spacing="-0.02" fill="#4B0082" stroke="#4B0082" stroke-width="0.15" xml:space="preserve">Likelihood to Achieve -  72 Hr 3 inch Liquid Equiv Rate</text>
<text x="109" y="611" font-size="10" letter-spacing="-0.02" fill="#4B0082" stroke="#4B0082" stroke-width="0.15" xml:space="preserve">Likelihood to Achieve -  72 Hr 4 inch Liquid Equiv Rate</text>
<text x="109" y="631" font-size="10" letter-spacing="-0.02" fill="#4B0082" stroke="#4B0082" stroke-width="0.15" xml:space="preserve">Likelihood to Achieve -  72 Hr 6 inch Liquid Equiv Rate</text>
<text x="550" y="503" font-size="13.29" fill="#A01010" xml:space="preserve">Chicago-Midway</text>
<text x="99.5" y="652" font-size="7.6" letter-spacing="0.425" fill="#4F8FE6" stroke="#4F8FE6" stroke-width="0.25" xml:space="preserve">Produced by NOAA/NWS Detroit</text>
<text x="99.5" y="662" font-size="7.6" letter-spacing="0.425" fill="#ABABAB" stroke="#ABABAB" stroke-width="0.25" xml:space="preserve">created 2017-12-15 15:31</text>
<text x="399.5" y="657" font-size="7.6" letter-spacing="0.425" fill="#4F8FE6" stroke="#4F8FE6" stroke-width="0.25" xml:space="preserve">Parametric Weighted Time Lag Ensemble Population Percentage</text>
</g>
</svg>
</body></html>
